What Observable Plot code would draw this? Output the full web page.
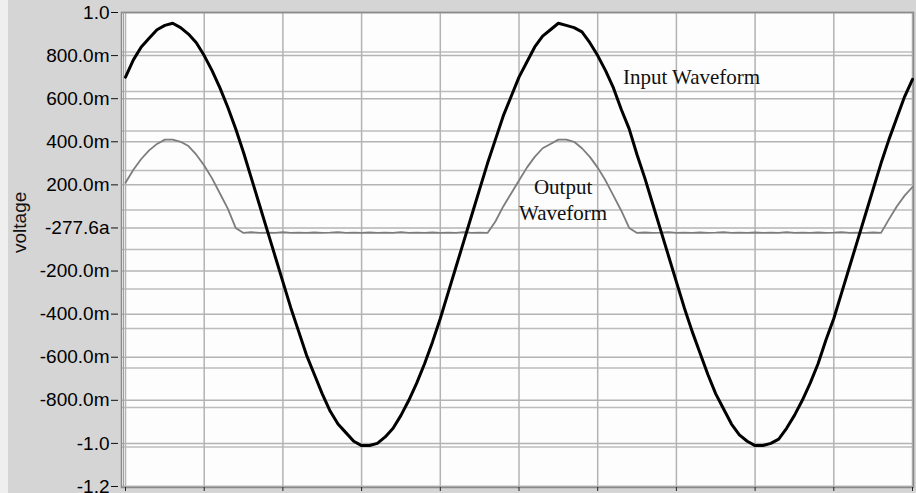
<!DOCTYPE html>
<html>
<head>
<meta charset="utf-8">
<script src="https://cdn.jsdelivr.net/npm/d3@7"></script>
<script src="https://cdn.jsdelivr.net/npm/@observablehq/plot@0.6"></script>
<style>
  html, body { margin: 0; padding: 0; }
  body { width: 916px; height: 493px; overflow: hidden;
         background: linear-gradient(to right, #efefef 0 8px, #d5d5d5 8px); }
  #chart svg { display: block; background: transparent; }
</style>
</head>
<body>
<div id="chart"></div>
<script>
// Sample step along the time axis (grid divisions)
const step = 0.1;

const inputWaveform = [
  0.70, 0.78, 0.84, 0.88, 0.92, 0.94, 0.95, 0.93, 0.90, 0.86,
  0.80, 0.73, 0.65, 0.56, 0.46, 0.35, 0.23, 0.11, -0.01, -0.13,
  -0.25, -0.37, -0.48, -0.59, -0.68, -0.77, -0.85, -0.91, -0.95, -0.99,
  -1.01, -1.01, -1.00, -0.97, -0.93, -0.87, -0.80, -0.72, -0.63, -0.53,
  -0.42, -0.30, -0.18, -0.06, 0.06, 0.18, 0.30, 0.41, 0.52, 0.61,
  0.70, 0.77, 0.84, 0.89, 0.92, 0.95, 0.94, 0.93, 0.91, 0.86,
  0.80, 0.73, 0.65, 0.55, 0.46, 0.34, 0.23, 0.11, -0.01, -0.13,
  -0.25, -0.37, -0.48, -0.58, -0.68, -0.77, -0.84, -0.91, -0.96, -0.99,
  -1.01, -1.01, -1.00, -0.98, -0.93, -0.87, -0.80, -0.72, -0.63, -0.52,
  -0.42, -0.30, -0.18, -0.06, 0.06, 0.18, 0.30, 0.41, 0.51, 0.61,
  0.69
];

const outputWaveform = [
  0.21, 0.27, 0.32, 0.36, 0.39, 0.41, 0.41, 0.40, 0.38, 0.34,
  0.29, 0.23, 0.16, 0.09, 0.00, -0.023, -0.020, -0.023, -0.022, -0.023,
  -0.020, -0.023, -0.022, -0.023, -0.021, -0.023, -0.022, -0.020, -0.023, -0.022,
  -0.023, -0.021, -0.023, -0.022, -0.023, -0.020, -0.023, -0.022, -0.023, -0.021,
  -0.023, -0.022, -0.023, -0.020, -0.023, -0.022, -0.023, 0.03, 0.10, 0.16,
  0.22, 0.28, 0.33, 0.37, 0.39, 0.41, 0.41, 0.40, 0.37, 0.33,
  0.28, 0.22, 0.15, 0.08, 0.00, -0.023, -0.021, -0.023, -0.022, -0.020,
  -0.023, -0.022, -0.023, -0.021, -0.023, -0.022, -0.020, -0.023, -0.022, -0.023,
  -0.021, -0.023, -0.022, -0.023, -0.020, -0.023, -0.022, -0.023, -0.021, -0.023,
  -0.022, -0.020, -0.023, -0.022, -0.023, -0.021, -0.023, 0.04, 0.10, 0.15,
  0.19
];

const yTicks = [1.0, 0.8, 0.6, 0.4, 0.2, 0, -0.2, -0.4, -0.6, -0.8, -1.0, -1.2];
const yTickLabels = ["1.0", "800.0m", "600.0m", "400.0m", "200.0m", "-277.6a",
                     "-200.0m", "-400.0m", "-600.0m", "-800.0m", "-1.0", "-1.2"];
const yMinorGrid = [1.0, 0.8167, 0.6333, 0.45, 0.2667, 0.0833, -0.1, -0.2833,
                    -0.4667, -0.65, -0.8333, -1.0167, -1.2];
const xTicks = [0, 1, 2, 3, 4, 5, 6, 7, 8, 9, 10];

const inputData = inputWaveform.map((v, i) => ({t: i * step, v}));
const outputData = outputWaveform.map((v, i) => ({t: i * step, v}));
const labelOf = new Map(yTicks.map((t, i) => [t, yTickLabels[i]]));

const chart = Plot.plot({
  width: 916,
  height: 493,
  marginLeft: 121,
  marginRight: 3,
  marginTop: 12,
  marginBottom: 6,
  style: {background: "transparent", overflow: "visible"},
  x: {domain: [0, 10], range: [125, 912]},
  y: {domain: [-1.2, 1.0], range: [486, 12]},
  marks: [
    Plot.frame({fill: "#fdfdfd", stroke: null}),
    Plot.ruleY(yMinorGrid, {stroke: "#bdbdbd", strokeWidth: 1.5}),
    Plot.ruleY(yTicks, {stroke: "#b3b3b3", strokeWidth: 1.5}),
    Plot.ruleX(xTicks, {stroke: "#b3b3b3", strokeWidth: 1.5}),
    Plot.frame({stroke: "#8a8a8a", strokeWidth: 1.5}),
    Plot.ruleX([0], {stroke: "#a0a0a0", strokeWidth: 1, dx: -2}),
    Plot.axisY({
      ticks: yTicks,
      tickFormat: d => labelOf.get(d),
      tickSize: 7,
      tickPadding: 2,
      dx: -3,
      fontSize: 19,
      fill: "#000",
      stroke: "#111",
      label: null
    }),
    Plot.axisX({
      ticks: xTicks,
      tickSize: 4,
      tickFormat: () => "",
      stroke: "#222",
      label: null
    }),
    Plot.text(["voltage"], {
      frameAnchor: "left",
      dx: -102,
      dy: 3,
      rotate: -90,
      fontSize: 19,
      fill: "#111"
    }),
    Plot.line(outputData, {x: "t", y: "v", stroke: "#7d7d7d", strokeWidth: 1.8}),
    Plot.line(inputData, {x: "t", y: "v", stroke: "#000", strokeWidth: 3}),
    Plot.text(["Input Waveform"], {
      x: 6.32, y: 0.70, textAnchor: "start",
      fontFamily: "'Liberation Serif', 'Times New Roman', serif",
      fontSize: 21, fill: "#111"
    }),
    Plot.text(["Output\nWaveform"], {
      x: 5.56, y: 0.137, textAnchor: "middle", lineHeight: 1.25,
      fontFamily: "'Liberation Serif', 'Times New Roman', serif",
      fontSize: 21, fill: "#111"
    })
  ]
});
chart.style.fontFamily = "'Liberation Sans', Arial, sans-serif";
document.getElementById("chart").appendChild(chart);
</script>
</body>
</html>
